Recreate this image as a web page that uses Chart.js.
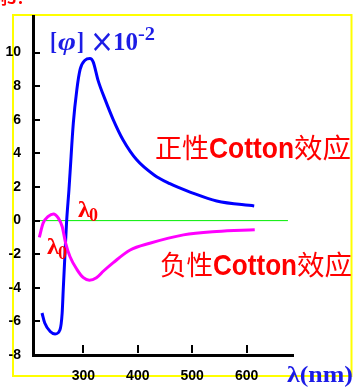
<!DOCTYPE html>
<html>
<head>
<meta charset="utf-8">
<script src="https://cdn.jsdelivr.net/npm/chart.js@4.4.1/dist/chart.umd.min.js"></script>
<style>
  html, body { margin: 0; padding: 0; background: #fff; }
  #wrap { width: 356px; height: 387px; }
</style>
</head>
<body>
<div id="wrap"><canvas id="cd" width="356" height="387"></canvas></div>
<script>
// wavelength (nm) vs [phi] x 10^-2
var blueNm  = [224, 229, 239, 248, 257, 261, 263, 266, 269, 273.5, 275.5, 281.5, 288, 294, 303, 312, 318, 327, 340, 355, 373, 398, 430, 459, 478, 496, 545, 614];
var blueVal = [-5.5, -6.1, -6.6, -6.75, -6.5, -5.5, -4.1, -2.1, -0.15, 1.85, 2.85, 5.8, 7.8, 9.0, 9.55, 9.65, 9.45, 8.35, 7.2, 6.0, 4.8, 3.62, 2.72, 2.2, 1.93, 1.7, 1.17, 0.87];
var pinkNm  = [219, 226, 235.5, 245, 254, 261, 267.5, 275.5, 288, 300, 311, 324, 337, 355, 386, 422, 484, 545, 615];
var pinkVal = [-1.0, -0.15, 0.25, 0.4, 0.15, -0.35, -1.35, -2.15, -2.9, -3.4, -3.55, -3.4, -3.0, -2.5, -1.75, -1.35, -0.85, -0.65, -0.55];
var zeroNm  = [207, 676];
var zeroVal = [0, 0];
var xTicks = [300, 400, 500, 600];
var yTicks = [-8, -6, -4, -2, 0, 2, 4, 6, 8, 10];

function pts(xs, ys) {
  return xs.map(function (x, i) { return { x: x, y: ys[i] }; });
}

// draw text stretched/squeezed to a given width
function put(c, s, x, y, font, color, w) {
  c.save();
  c.font = font;
  c.fillStyle = color;
  var m = c.measureText(s).width;
  c.translate(x, y);
  if (w) c.scale(w / m, 1);
  c.fillText(s, 0, 0);
  c.restore();
}

var deco = {
  id: 'deco',
  beforeDraw: function (chart) {
    var c = chart.ctx;
    c.save();
    c.fillStyle = '#fff';
    c.fillRect(0, 0, chart.width, chart.height);
    c.strokeStyle = '#ffff00';
    c.lineWidth = 2;
    c.strokeRect(13, 15, 338.5, 361);
    c.restore();
  },
  afterDraw: function (chart) {
    var c = chart.ctx, xs = chart.scales.x, ys = chart.scales.y, a = chart.chartArea;
    c.save();
    // inward ticks
    c.strokeStyle = '#000';
    c.lineWidth = 2;
    yTicks.forEach(function (v) {
      var p = Math.round(ys.getPixelForValue(v));
      c.beginPath(); c.moveTo(a.left, p); c.lineTo(a.left + 7, p); c.stroke();
    });
    xTicks.forEach(function (v) {
      var p = Math.round(xs.getPixelForValue(v));
      c.beginPath(); c.moveTo(p, a.bottom - 2); c.lineTo(p, a.bottom - 10); c.stroke();
    });

    c.textAlign = 'left';
    c.textBaseline = 'alphabetic';
    // clipped heading
    put(c, '例3：', -9, 4, 'bold 16px "Noto Sans CJK SC"', '#ff0000');

    // [phi] x10^-2
    var blue = '#1c1ce6', serif = '"Liberation Serif"';
    put(c, '[', 50, 50, 'bold 25px ' + serif, blue, 7);
    put(c, 'φ', 58, 50, 'italic bold 25px ' + serif, blue, 18);
    put(c, ']', 77, 50, 'bold 25px ' + serif, blue, 7);
    put(c, '×', 90, 52, '32px "DejaVu Sans"', blue, 24);
    put(c, '10', 113, 50, 'bold 25px ' + serif, blue, 25);
    put(c, '-2', 138, 40, 'bold 18px ' + serif, blue, 17);

    // axis name
    put(c, 'λ(nm)', 287, 382, 'bold 24px ' + serif, blue, 66);

    // lambda0 labels
    var red = '#ff0000';
    put(c, 'λ', 78, 217, 'bold 23px ' + serif, red, 12);
    put(c, '0', 89, 221, 'bold 18px ' + serif, red, 9);
    put(c, 'λ', 47, 254, 'bold 23px ' + serif, red, 12);
    put(c, '0', 58, 259, 'bold 18px ' + serif, red, 9);

    // cotton effect labels
    var cjk = '27px "Noto Sans CJK SC"', lat = 'bold 30px "Liberation Sans"';
    put(c, '正性', 155, 158, cjk, red, 54);
    put(c, 'Cotton', 209, 158, lat, red, 85);
    put(c, '效应', 294, 158, cjk, red, 57);
    put(c, '负性', 160, 275, cjk, red, 53);
    put(c, 'Cotton', 213, 275, lat, red, 84);
    put(c, '效应', 297, 275, cjk, red, 55);
    c.restore();
  }
};

var tickFont = { family: '"Liberation Sans"', size: 14, weight: 'bold' };

new Chart(document.getElementById('cd'), {
  type: 'line',
  data: {
    datasets: [
      { data: pts(pinkNm, pinkVal), borderColor: '#ff00ff', borderWidth: 3, cubicInterpolationMode: 'monotone', fill: false },
      { data: pts(blueNm, blueVal), borderColor: '#0000ff', borderWidth: 3, cubicInterpolationMode: 'monotone', fill: false },
      { data: pts(zeroNm, zeroVal), borderColor: '#00ee00', borderWidth: 1, fill: false }
    ]
  },
  options: {
    responsive: false,
    animation: false,
    devicePixelRatio: 1,
    layout: { padding: { top: 16, right: 63, left: 0, bottom: 0 } },
    plugins: { legend: { display: false }, tooltip: { enabled: false } },
    elements: { point: { radius: 0 } },
    scales: {
      x: {
        type: 'linear', min: 207.4, max: 685.3,
        grid: { display: false },
        border: { display: true, color: '#000', width: 3 },
        ticks: { color: '#000', font: tickFont, padding: 5, maxRotation: 0, autoSkip: false },
        afterBuildTicks: function (s) { s.ticks = xTicks.map(function (v) { return { value: v }; }); },
        afterFit: function (s) { s.height = 32; }
      },
      y: {
        type: 'linear', min: -8, max: 12.18,
        grid: { display: false },
        border: { display: true, color: '#000', width: 3 },
        ticks: { color: '#000', font: tickFont, padding: 4, autoSkip: false },
        afterBuildTicks: function (s) { s.ticks = yTicks.map(function (v) { return { value: v }; }); },
        afterFit: function (s) { s.width = 33; }
      }
    }
  },
  plugins: [deco]
});
</script>
</body>
</html>
